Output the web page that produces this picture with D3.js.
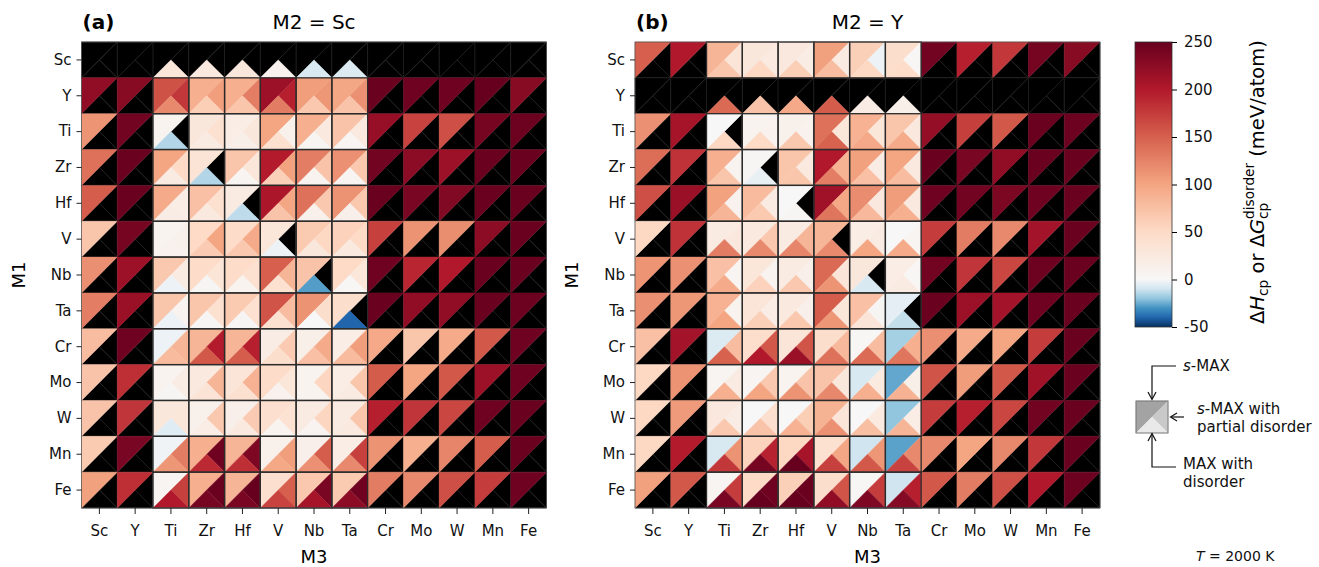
<!DOCTYPE html>
<html>
<head>
<meta charset="utf-8">
<script src="https://cdn.jsdelivr.net/npm/d3@7.9.0/dist/d3.min.js"></script>
<style>
  body { margin: 0; background: #fff; }
  svg { display: block; font-family: "DejaVu Sans", sans-serif; }
</style>
</head>
<body>
<svg id="chart" width="1319" height="567"></svg>
<script>
// ---------- data ----------
const ELEMENTS = ['Sc', 'Y', 'Ti', 'Zr', 'Hf', 'V', 'Nb', 'Ta', 'Cr', 'Mo', 'W', 'Mn', 'Fe'];
const DISORDER_COLS = ['Ti', 'Zr', 'Hf', 'V', 'Nb', 'Ta'];
const CBAR_TICKS = [250, 200, 150, 100, 50, 0, -50];
const _ = null;

// M2 = Sc, s-MAX (upper-left triangle); rows = M1, cols = M3
const scSMax = [
  [_, _, _, _, _, _, _, _, _, _, _, _, _],
  [222, 228, 160, 90, 90, 215, 105, 98, 248, 245, 245, 250, 228],
  [112, 243, 8, 28, 18, 100, 90, 72, 218, 170, 162, 240, 247],
  [138, 248, 100, 35, 70, 198, 128, 115, 243, 225, 215, 248, 248],
  [152, 248, 95, 75, 22, 205, 138, 113, 248, 238, 232, 248, 248],
  [70, 240, 8, 50, 48, 30, 66, 58, 172, 113, 117, 225, 248],
  [116, 215, 68, 47, 48, 150, 72, 50, 245, 190, 200, 248, 248],
  [128, 217, 70, 70, 66, 158, 113, 45, 248, 222, 222, 248, 247],
  [78, 245, -3, 85, 85, 20, 15, 18, 96, 70, 95, 155, 245],
  [72, 185, 8, 25, 32, 48, 8, 18, 153, 100, 155, 215, 245],
  [72, 180, 28, 12, 14, 43, 22, 22, 195, 180, 168, 245, 248],
  [66, 238, -2, 90, 85, 12, 14, 18, 113, 90, 123, 152, 248],
  [103, 185, 5, 90, 85, 42, 68, 66, 130, 120, 162, 175, 245]
];
// M2 = Sc, s-MAX with partial disorder (right triangle); cols = DISORDER_COLS
const scPartial = [
  _,
  [178, 105, 128, 195, 110, 115],
  [_, 40, 28, 12, 25, 25],
  [50, _, 30, 102, 72, 68],
  [18, 40, _, 98, 68, 68],
  [12, 100, 95, _, 52, 50],
  [22, 33, 40, 85, _, 30],
  [8, 40, 40, 78, 45, _],
  [85, 198, 195, 65, 95, 105],
  [20, 85, 88, 30, 55, 70],
  [30, 68, 65, 38, 55, 70],
  [130, 245, 235, 105, 152, 172],
  [172, 248, 250, 150, 238, 245]
];
// M2 = Sc, MAX with disorder (bottom triangle)
const scDisorder = [
  [30, 25, 28, 10, -8, -7],
  [120, 62, 70, 130, 68, 72],
  [-15, 22, 15, 40, 5, 5],
  [22, -15, 6, 60, 8, 5],
  [20, 25, -13, 72, 12, 14],
  [10, 65, 68, -3, 28, 25],
  [-3, 4, 8, 40, -28, 2],
  [-3, 3, 3, 40, 0, -40],
  [80, 155, 152, 45, 75, 80],
  [4, 35, 40, 10, 8, 22],
  [-6, 18, 25, 8, 7, 25],
  [110, 188, 185, 97, 115, 120],
  [200, 240, 238, 170, 208, 225]
];

// M2 = Y
const ySMax = [
  [150, 200, 85, 28, 26, 103, 60, 45, 242, 195, 178, 240, 228],
  [_, _, _, _, _, _, _, _, _, _, _, _, _],
  [115, 208, 0, 8, 12, 138, 88, 70, 220, 173, 155, 248, 247],
  [140, 182, 90, 3, 70, 200, 103, 100, 248, 238, 222, 248, 248],
  [162, 217, 102, 80, 0, 213, 118, 106, 245, 243, 236, 245, 248],
  [52, 182, 22, 25, 22, 85, 18, 0, 175, 130, 120, 210, 248],
  [112, 115, 75, 30, 22, 143, 28, 18, 243, 180, 168, 246, 248],
  [116, 110, 88, 32, 25, 152, 75, -5, 248, 215, 210, 245, 248],
  [75, 210, -7, 46, 32, 45, 2, -17, 116, 95, 100, 175, 248],
  [52, 113, 6, 5, 8, 72, -8, -26, 158, 106, 155, 212, 248],
  [52, 108, 26, 0, 0, 87, 0, -20, 175, 195, 168, 243, 248],
  [52, 198, -8, 57, 52, 40, -10, -27, 120, 100, 122, 178, 248],
  [103, 155, 5, 50, 60, 45, 2, -10, 155, 130, 162, 200, 247]
];
const yPartial = [
  [32, 24, 20, 22, -3, 2],
  _,
  [_, 10, 10, 30, 30, 26],
  [8, _, 25, 87, 20, 25],
  [10, 22, _, 97, 26, 25],
  [26, 68, 85, _, 22, 5],
  [5, 8, 14, 32, _, 2],
  [8, 18, 14, 30, 4, _],
  [78, 155, 158, 82, 78, 90],
  [22, 68, 72, 28, 24, 15],
  [20, 42, 62, 32, 24, 18],
  [113, 193, 208, 98, 110, 120],
  [175, 245, 248, 158, 175, 195]
];
const yDisorder = [
  [70, 52, 62, 78, 52, 48],
  [143, 72, 96, 153, 20, 15],
  [52, 50, 68, 148, 96, 95],
  [70, -4, 70, 128, 75, 78],
  [85, 67, 4, 135, 82, 90],
  [130, 120, 123, 120, 100, 95],
  [95, 58, 68, 112, -8, 22],
  [100, 60, 68, 110, 32, -12],
  [148, 200, 217, 138, 142, 135],
  [90, 100, 113, 122, 90, 88],
  [68, 72, 88, 115, 76, 85],
  [178, 240, 252, 172, 155, 170],
  [238, 255, 255, 222, 235, 230]
];

// ---------- setup ----------
const svg = d3.select('#chart');
const PLOT_TOP = 42, PLOT_BOTTOM = 508;

// RdBu_r with a two-slope norm (-50 .. 0 .. 250)
const color = d3.scaleLinear()
  .domain([-50, -40, -30, -20, -10, 0, 50, 100, 150, 200, 250])
  .range(['#053061', '#2166ac', '#4393c3', '#92c5de', '#d1e5f0', '#f7f7f7',
          '#fddbc7', '#f4a582', '#d6604d', '#b2182b', '#67001f'])
  .clamp(true);

function drawPanel(p) {
  const x = d3.scaleBand().domain(ELEMENTS).range([p.left, p.right]);
  const y = d3.scaleBand().domain(ELEMENTS).range([PLOT_TOP, PLOT_BOTTOM]);
  const g = svg.append('g');

  const cells = [];
  ELEMENTS.forEach((m1, i) => ELEMENTS.forEach((m3, j) => {
    const k = DISORDER_COLS.indexOf(m3);
    cells.push({
      m1, m3,
      top: p.sMax[i][j],
      right: k >= 0 && p.partial[i] ? p.partial[i][k] : null,
      bottom: k >= 0 && p.disorder[i] ? p.disorder[i][k] : null
    });
  }));

  const tris = [];
  cells.forEach(c => {
    const x0 = x(c.m3), x1 = x0 + x.bandwidth();
    const y0 = y(c.m1), y1 = y0 + y.bandwidth();
    const xc = (x0 + x1) / 2, yc = (y0 + y1) / 2;
    tris.push({ v: c.top, pts: [[x0, y0], [x1, y0], [x0, y1]] });
    tris.push({ v: c.right, pts: [[x1, y0], [x1, y1], [xc, yc]] });
    tris.push({ v: c.bottom, pts: [[x0, y1], [x1, y1], [xc, yc]] });
  });
  tris.sort((a, b) => (a.v === null ? 0 : 1) - (b.v === null ? 0 : 1));

  g.append('g')
    .selectAll('polygon')
    .data(tris)
    .join('polygon')
    .attr('points', d => d.pts.map(q => q.join(',')).join(' '))
    .attr('fill', d => d.v === null ? '#000' : color(d.v))
    .attr('stroke', d => d.v === null ? '#1d1d1d' : color(d.v))
    .attr('stroke-width', d => d.v === null ? 0.7 : 0.4);

  // outlines of cells that carry disorder data
  g.append('g')
    .selectAll('rect')
    .data(cells.filter(c => c.top !== null && c.bottom !== null))
    .join('rect')
    .attr('x', d => x(d.m3))
    .attr('y', d => y(d.m1))
    .attr('width', x.bandwidth())
    .attr('height', y.bandwidth())
    .attr('fill', 'none')
    .attr('stroke', '#2b2b2b')
    .attr('stroke-width', 1.3);

  // frame
  g.append('rect')
    .attr('x', p.left).attr('y', PLOT_TOP)
    .attr('width', p.right - p.left).attr('height', PLOT_BOTTOM - PLOT_TOP)
    .attr('fill', 'none').attr('stroke', '#555').attr('stroke-width', 0.8);

  // axes
  const ax = g.append('g')
    .attr('transform', `translate(0,${PLOT_BOTTOM})`)
    .call(d3.axisBottom(x).tickSize(6).tickPadding(11));
  const ay = g.append('g')
    .attr('transform', `translate(${p.left},0)`)
    .call(d3.axisLeft(y).tickSize(5).tickPadding(5));
  [ax, ay].forEach(a => {
    a.select('.domain').remove();
    a.selectAll('text').attr('font-size', 15).attr('fill', '#111')
      .attr('font-family', '"DejaVu Sans", sans-serif');
    a.selectAll('line').attr('stroke', '#222');
  });

  const cx = (p.left + p.right) / 2;
  g.append('text').attr('x', p.left + 1).attr('y', 29)
    .attr('font-size', 20).attr('font-weight', 'bold').text(p.tag);
  g.append('text').attr('x', cx).attr('y', 29).attr('text-anchor', 'middle')
    .attr('font-size', 20).text(p.title);
  g.append('text').attr('x', cx).attr('y', 563).attr('text-anchor', 'middle')
    .attr('font-size', 18).text('M3');
  g.append('text')
    .attr('transform', `translate(${p.left - 57},${(PLOT_TOP + PLOT_BOTTOM) / 2}) rotate(-90)`)
    .attr('text-anchor', 'middle').attr('font-size', 18).text('M1');
}

drawPanel({ left: 81.5, right: 546.5, tag: '(a)', title: 'M2 = Sc',
  sMax: scSMax, partial: scPartial, disorder: scDisorder });
drawPanel({ left: 635, right: 1100, tag: '(b)', title: 'M2 = Y',
  sMax: ySMax, partial: yPartial, disorder: yDisorder });

// ---------- colorbar ----------
const CB_X = 1135, CB_W = 37;
const cbY = d3.scaleLinear().domain([-50, 250]).range([327, 42]);
const grad = svg.append('defs').append('linearGradient')
  .attr('id', 'cbgrad').attr('x1', 0).attr('y1', 1).attr('x2', 0).attr('y2', 0);
color.domain().forEach(v => {
  grad.append('stop').attr('offset', (v + 50) / 300).attr('stop-color', color(v));
});
svg.append('rect').attr('x', CB_X).attr('y', cbY(250))
  .attr('width', CB_W).attr('height', cbY(-50) - cbY(250))
  .attr('fill', 'url(#cbgrad)').attr('stroke', '#333').attr('stroke-width', 0.8);
const cbAxis = svg.append('g')
  .attr('transform', `translate(${CB_X + CB_W},0)`)
  .call(d3.axisRight(cbY).tickValues(CBAR_TICKS).tickSize(5).tickPadding(7)
    .tickFormat(d => d < 0 ? '-' + Math.abs(d) : d));
cbAxis.select('.domain').remove();
cbAxis.selectAll('text').attr('font-size', 15).attr('fill', '#111')
  .attr('font-family', '"DejaVu Sans", sans-serif');

// colorbar label (rotated, mathtext-like)
const lab = svg.append('g').attr('transform', 'translate(1264,182) rotate(-90)');
const FS = 19.5;
const pieces = [
  { t: 'Δ' }, { t: 'H', it: true }, { t: 'cp', sub: true },
  { t: '\u00a0or\u00a0Δ' }, { t: 'G', it: true }, { t: 'cp', sub: true, sup: 'disorder' },
  { t: '\u00a0(meV/atom)' }
];
let cursor = 0;
const placed = [];
pieces.forEach(pc => {
  const small = pc.sub;
  const tEl = lab.append('text').attr('font-size', small ? FS * 0.7 : FS)
    .attr('font-style', pc.it ? 'italic' : 'normal')
    .attr('y', small ? FS * 0.22 : 0).text(pc.t);
  let w = tEl.node().getComputedTextLength();
  placed.push({ el: tEl, x: cursor });
  if (pc.sup) {
    const sEl = lab.append('text').attr('font-size', FS * 0.7).attr('y', -FS * 0.5).text(pc.sup);
    placed.push({ el: sEl, x: cursor });
    w = Math.max(w, sEl.node().getComputedTextLength());
  }
  cursor += w;
});
placed.forEach(o => o.el.attr('x', o.x - cursor / 2));

// ---------- legend ----------
const lg = svg.append('g');
const sq = { x: 1136, y: 401, s: 32 };
const sqTris = [
  { f: '#a3a3a3', pts: [[0, 0], [1, 0], [0, 1]] },
  { f: '#c9c9c9', pts: [[1, 0], [1, 1], [0.5, 0.5]] },
  { f: '#e9e9e9', pts: [[0, 1], [1, 1], [0.5, 0.5]] }
];
lg.selectAll('polygon').data(sqTris).join('polygon')
  .attr('points', d => d.pts.map(q => [sq.x + q[0] * sq.s, sq.y + q[1] * sq.s].join(',')).join(' '))
  .attr('fill', d => d.f).attr('stroke', d => d.f).attr('stroke-width', 0.4);
lg.append('rect').attr('x', sq.x).attr('y', sq.y).attr('width', sq.s).attr('height', sq.s)
  .attr('fill', 'none').attr('stroke', '#777').attr('stroke-width', 1);

const arrows = [
  { d: 'M1176,366 H1152 V399', head: [[1148, 392], [1152, 399.5], [1156, 392]] },
  { d: 'M1184,417 H1171', head: [[1177, 413], [1170.5, 417], [1177, 421]] },
  { d: 'M1176,467 H1152 V434', head: [[1148, 441], [1152, 433.5], [1156, 441]] }
];
arrows.forEach(a => {
  lg.append('path').attr('d', a.d).attr('fill', 'none').attr('stroke', '#111').attr('stroke-width', 1.2);
  lg.append('path').attr('d', d3.line()(a.head)).attr('fill', 'none')
    .attr('stroke', '#111').attr('stroke-width', 1.2);
});

function legendText(x, y, parts, size = 15) {
  const t = lg.append('text').attr('x', x).attr('y', y).attr('font-size', size).attr('fill', '#111');
  parts.forEach(([s, it]) => t.append('tspan').attr('font-style', it ? 'italic' : 'normal').text(s));
}
legendText(1183, 371, [['s', true], ['-MAX']]);
legendText(1197, 414, [['s', true], ['-MAX with']]);
legendText(1197, 432, [['partial disorder']]);
legendText(1183, 469, [['MAX with']]);
legendText(1183, 487, [['disorder']]);
legendText(1196, 561, [['T', true], ['\u00a0=\u00a02000\u00a0K']], 14);
</script>
</body>
</html>
